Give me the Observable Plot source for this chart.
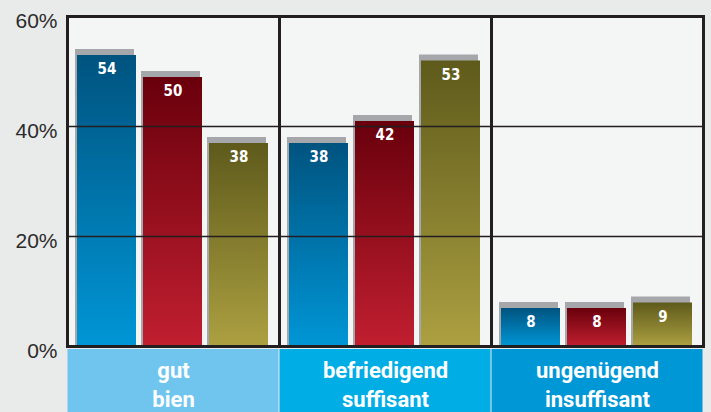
<!DOCTYPE html>
<html>
<head>
<meta charset="utf-8">
<script src="https://cdn.jsdelivr.net/npm/d3@7"></script>
<script src="https://cdn.jsdelivr.net/npm/@observablehq/plot@0.6"></script>
<style>
  html, body { margin: 0; padding: 0; background: #e9eaea; }
</style>
</head>
<body>
<div id="chart"></div>
<script>
// ---- data ----
const categories = ["gut\nbien", "befriedigend\nsuffisant", "ungenügend\ninsuffisant"];
const seriesKeys = ["blue", "red", "olive"];
const seriesBlue = [54, 38, 8];
const seriesRed = [50, 42, 8];
const seriesOlive = [38, 53, 9];
const yTicks = [0, 20, 40, 60];
const gridTicks = [20, 40];
const headerColors = ["#6fc5ee", "#00ade5", "#0097d7"];
const gradientStops = {
  blue: ["#00537f", "#0096d6"],
  red: ["#69000c", "#c11f30"],
  olive: ["#5e5a1b", "#aca041"]
};

const seriesValues = [seriesBlue, seriesRed, seriesOlive];
const data = [];
categories.forEach((c, ci) => {
  seriesKeys.forEach((s, si) => {
    data.push({category: c, series: s, value: seriesValues[si][ci]});
  });
});

const labelFont = "'DejaVu Sans Condensed', 'Liberation Sans Narrow', 'Roboto', sans-serif";

const chart = Plot.plot({
  width: 711,
  height: 412,
  marginLeft: 67,
  marginRight: 8,
  marginTop: 16,
  marginBottom: 66,
  style: {
    fontFamily: "'Liberation Sans', Arial, sans-serif",
    fontSize: "21px",
    color: "#2b2b2b",
    background: "#e9eaea"
  },
  fx: {domain: categories, padding: 0, axis: null},
  x: {domain: seriesKeys, paddingInner: 0.1, paddingOuter: 0.145, axis: null},
  y: {domain: [0, 60], axis: null},
  color: {type: "identity"},
  marks: [
    Plot.frame({fill: "#f4f5f5"}),
    // 3D gray cap / side
    Plot.barY(data, {fx: "category", x: "series", y: "value", fill: "#a5a7aa", dx: -2}),
    // gradient bar
    Plot.barY(data, {fx: "category", x: "series", y: "value", fill: d => `url(#grad-${d.series})`, insetTop: 6}),
    Plot.ruleY(gridTicks, {stroke: "#231f20", strokeWidth: 1.5}),
    Plot.text(data, {
      fx: "category", x: "series", y: "value", text: d => String(d.value),
      dy: 20, fill: "white", fontWeight: "bold", fontSize: 15, fontFamily: labelFont
    }),
    Plot.frame({stroke: "#231f20", strokeWidth: 3}),
    // category header band
    Plot.rect(categories, {
      fx: d => d, y1: 0, y2: 0, insetTop: 3, insetBottom: -67,
      insetLeft: 0.5, insetRight: 0.5,
      fill: (d, i) => headerColors[i]
    }),
    Plot.text(categories, {
      fx: d => d, text: d => d, frameAnchor: "bottom", dy: 37,
      lineAnchor: "middle", lineHeight: 1.3,
      fill: "white", fontWeight: "bold", fontSize: 22, fontFamily: "Roboto, sans-serif"
    }),
    Plot.axisY(yTicks, {
      tickSize: 0, tickPadding: 10, tickFormat: d => d + "%", dy: 5,
      fontSize: 21, label: null, fill: "#2b2b2b"
    })
  ]
});

// gradient definitions
const svg = d3.select(chart.tagName.toLowerCase() === "svg" ? chart : chart.querySelector("svg"));
const defs = svg.insert("defs", ":first-child");
for (const key of seriesKeys) {
  const g = defs.append("linearGradient")
    .attr("id", `grad-${key}`)
    .attr("x1", 0).attr("y1", 0).attr("x2", 0).attr("y2", 1);
  g.append("stop").attr("offset", "0%").attr("stop-color", gradientStops[key][0]);
  g.append("stop").attr("offset", "100%").attr("stop-color", gradientStops[key][1]);
}

document.getElementById("chart").appendChild(chart);
</script>
</body>
</html>
